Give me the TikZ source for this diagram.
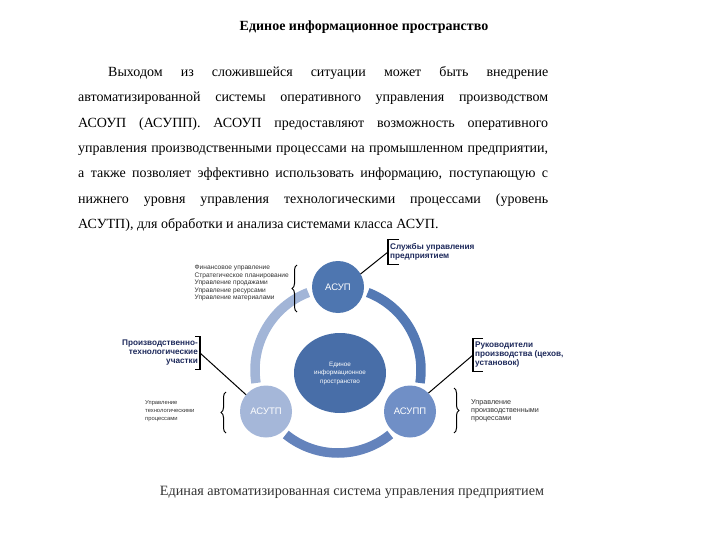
\documentclass[tikz,border=0pt]{standalone}
\usepackage{fontspec}
\setmainfont{Liberation Serif}
\setsansfont{Liberation Sans}
\usetikzlibrary{positioning,shapes.geometric,decorations.pathreplacing}
\definecolor{hubblue}{RGB}{72,110,168}
\definecolor{topblue}{RGB}{78,118,176}
\definecolor{midblue}{RGB}{112,143,198}
\definecolor{paleblue}{RGB}{165,183,217}
\definecolor{arcdark}{RGB}{84,121,180}
\definecolor{arcmid}{RGB}{100,131,188}
\definecolor{arcpale}{RGB}{162,181,215}
\definecolor{labelnavy}{RGB}{28,40,90}
\definecolor{notegray}{RGB}{50,50,50}

\begin{document}
\begin{tikzpicture}[x=1pt, y=-1pt,
    sysnode/.style={circle, fill=#1, minimum size=52pt, inner sep=0pt, outer sep=0pt,
                    text=white, font=\sffamily\fontsize{9.5}{10}\selectfont},
    rolebox/.style={font=\sffamily\bfseries\fontsize{8.2}{9}\selectfont, text=labelnavy,
                    inner xsep=2pt, inner ysep=4pt},
    tasklist/.style={font=\sffamily\fontsize{6.6}{7.5}\selectfont, align=left, inner sep=0pt, text=notegray},
    ringarc/.style={line width=9.5pt},
    bracket/.style={black, line width=1.2pt},
    pointer/.style={black, line width=1pt},
    curly/.style={decorate, decoration={brace, amplitude=5pt}, line width=1pt}]
  \useasboundingbox (0,0) rectangle (720,540);

  % heading and text
  \node[font=\bfseries\fontsize{14}{16}\selectfont] (title) at (364,27) {Единое информационное пространство};
  \node[anchor=north west, text width=470pt, align=justify, inner sep=0pt,
        font=\fontsize{14}{25.4}\selectfont] (intro) at (78,66)
    {\hspace*{30pt}Выходом из сложившейся ситуации может быть внедрение\linebreak
     автоматизированной системы оперативного управления производством\linebreak
     АСОУП (АСУПП). АСОУП предоставляют возможность оперативного\linebreak
     управления производственными процессами на промышленном предприятии,\linebreak
     а также позволяет эффективно использовать информацию, поступающую с\linebreak
     нижнего уровня управления технологическими процессами (уровень\linebreak
     АСУТП), для обработки и анализа системами класса АСУП.};

  % ring
  \coordinate (ringc) at (338,370);
  \foreach \a/\c in {270/arcdark, 30/arcmid, 150/arcpale}
    \draw[ringarc, \c] (ringc) ++({\a+21}:83) arc[start angle=\a+21, end angle=\a+99, radius=83];

  \node[ellipse, fill=hubblue, minimum width=92pt, minimum height=80pt, text=white, align=center,
        font=\sffamily\fontsize{6.3}{8.5}\selectfont] (hub) at (340,373)
    {Единое\\информационное\\пространство};
  \node[sysnode=topblue] (asup) at (338,287) {АСУП};
  \node[sysnode=paleblue] (asutp) at (266,411.5) {АСУТП};
  \node[sysnode=midblue] (asupp) at (410,411.5) {АСУПП};

  % who works with each level
  \node[rolebox, anchor=west, align=left] (svc) at (388,252) {Службы управления\\предприятием};
  \draw[bracket] ([xshift=11pt]svc.north west) -- (svc.north west) -- (svc.south west) -- ([xshift=11pt]svc.south west);
  \node[rolebox, anchor=east, align=right, inner ysep=4pt] (plant) at (200,353)
    {Производственно-\\технологические\\участки};
  \draw[bracket] ([xshift=-5pt]plant.north east) -- (plant.north east) -- (plant.south east) -- ([xshift=-5pt]plant.south east);
  \node[rolebox, anchor=west, align=left, inner ysep=4pt] (heads) at (473,355)
    {Руководители\\производства (цехов,\\установок)};
  \draw[bracket] ([xshift=10pt]heads.north west) -- (heads.north west) -- (heads.south west) -- ([xshift=10pt]heads.south west);

  \draw[pointer] (asup.30) -- (svc.west);
  \draw[pointer] (asutp.140) -- (plant.east);
  \draw[pointer] (asupp.45) -- (heads.west);

  % tasks of each level
  \node[tasklist, anchor=east] (fintasks) at (289,283)
    {Финансовое управление\\Стратегическое планирование\\Управление продажами\\Управление ресурсами\\Управление материалами};
  \draw[curly] (297,312) -- (297,265);
  \node[tasklist, anchor=west, font=\sffamily\fontsize{5.8}{8}\selectfont] (techtasks) at (145,411)
    {Управление\\технологическими\\процессами};
  \draw[curly] (226,433) -- (226,392);
  \node[tasklist, anchor=west, font=\sffamily\fontsize{7.2}{8}\selectfont] (prodtasks) at (471,411)
    {Управление\\производственными\\процессами};
  \draw[curly] (454,388) -- (454,433);

  \node[font=\fontsize{14.2}{16}\selectfont, text=notegray] (caption) at (352,492)
    {Единая автоматизированная система управления предприятием};
\end{tikzpicture}
\end{document}
